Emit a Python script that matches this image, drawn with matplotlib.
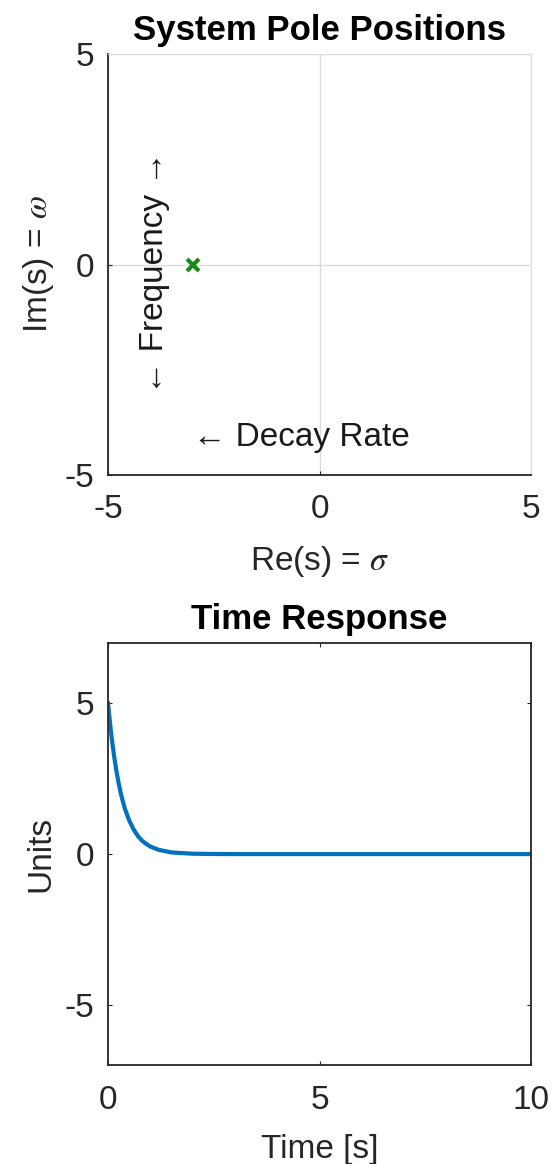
import matplotlib.pyplot as plt
import numpy as np

plt.rcParams['font.family'] = ['Liberation Sans', 'DejaVu Sans']
plt.rcParams['mathtext.fontset'] = 'stix'
plt.rcParams['axes.unicode_minus'] = False

# pole location (s-plane)
pole_re = [-3.0]
pole_im = [0.0]

# time response
time_s = [0, 0.05, 0.1, 0.15, 0.2, 0.25, 0.3, 0.35, 0.4, 0.5, 0.6, 0.7, 0.8,
          0.9, 1.0, 1.2, 1.5, 2.0, 2.5, 3.0, 5.0, 10.0]
units = [5.0, 4.3, 3.7, 3.19, 2.74, 2.36, 2.03, 1.75, 1.5, 1.12, 0.83, 0.61,
         0.45, 0.34, 0.25, 0.14, 0.055, 0.012, 0.003, 0.0, 0.0, 0.0]

lim_ticks = [-5, 0, 5]
time_ticks = [0, 5, 10]

fs = 24
dark = '#262626'

fig = plt.figure(figsize=(5.54, 11.64), dpi=100)

# --- pole plot ---
ax1 = fig.add_axes([0.195, 0.5919, 0.7635, 0.3617])
ax1.plot(pole_re, pole_im, 'x', color='#1a8a1a', markersize=8, mew=3)
ax1.set_xlim(-5, 5)
ax1.set_ylim(-5, 5)
ax1.set_xticks(lim_ticks)
ax1.set_yticks(lim_ticks)
ax1.grid(True, color='#dcdcdc', linewidth=1)
ax1.set_axisbelow(True)
for side in ['top', 'right']:
    ax1.spines[side].set_color('#dcdcdc')
for side in ['left', 'bottom']:
    ax1.spines[side].set_color(dark)
    ax1.spines[side].set_linewidth(1.3)
ax1.tick_params(direction='in', length=3, labelsize=fs, colors=dark,
                top=False, right=False)
ax1.tick_params(axis='x', pad=14)
ax1.tick_params(axis='y', pad=10)
ax1.set_title('System Pole Positions', fontsize=25, fontweight='bold', pad=10)
ax1.set_xlabel(r'Re(s) = $\sigma$', fontsize=fs, color=dark, labelpad=13)
ax1.set_ylabel(r'Im(s) = $\omega$', fontsize=fs, color=dark, labelpad=6)
ax1.text(-3, -4.1, '\u2190 Decay Rate', fontsize=fs, color='#1a1a1a',
         ha='left', va='center')
ax1.text(-3.9, -0.2, '\u2190 Frequency \u2192', fontsize=fs, color='#1a1a1a',
         ha='center', va='center', rotation=90)

# --- time response ---
ax2 = fig.add_axes([0.195, 0.085, 0.7635, 0.3625])
ax2.plot(time_s, units, color='#0072BD', linewidth=3)
ax2.set_xlim(0, 10)
ax2.set_ylim(-7, 7)
ax2.set_xticks(time_ticks)
ax2.set_yticks(lim_ticks)
for side in ax2.spines:
    ax2.spines[side].set_color(dark)
    ax2.spines[side].set_linewidth(1.3)
ax2.tick_params(direction='in', length=3, labelsize=fs, colors=dark,
                top=True, right=True)
ax2.tick_params(axis='x', pad=14)
ax2.tick_params(axis='y', pad=10)
ax2.set_title('Time Response', fontsize=25, fontweight='bold', pad=10)
ax2.set_xlabel('Time [s]', fontsize=fs, color=dark, labelpad=13)
ax2.set_ylabel('Units', fontsize=fs, color=dark, labelpad=6)

fig.savefig('out.png', dpi=100)
